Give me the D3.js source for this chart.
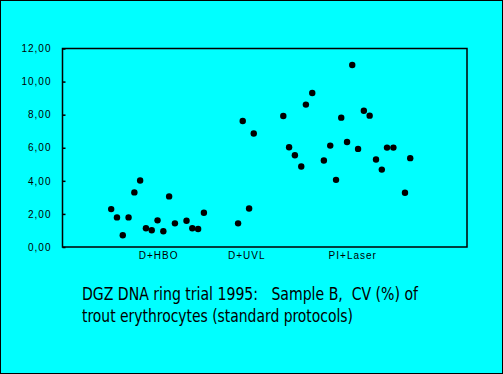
<!DOCTYPE html>
<html>
<head>
<meta charset="utf-8">
<script src="https://cdn.jsdelivr.net/npm/d3@7"></script>
<style>
  html, body { margin: 0; padding: 0; background: #00ffff; }
  svg { display: block; }
</style>
</head>
<body>
<div id="chart"></div>
<script>
// groups along the x axis (label + where the label sits, in run units)
const categories = ["D+HBO", "D+UVL", "PI+Laser"];
const categoryPos = [16.1, 31.3, 49.6];

// run order (x) and CV % (y) for each group
const hboX = [8, 9, 10, 11, 12, 13, 14, 15, 16, 17, 18, 19, 21, 22, 23, 24];
const hboCV = [2.29, 1.79, 0.71, 1.79, 3.30, 4.02, 1.13, 1.01, 1.61, 0.95, 3.06, 1.43, 1.59, 1.13, 1.09, 2.07];
const uvlX = [29.9, 30.7, 31.8, 32.6];
const uvlCV = [1.43, 7.62, 2.33, 6.86];
const laserX = [37.7, 38.7, 39.7, 40.8, 41.6, 42.7, 44.7, 45.8, 46.8, 47.7, 48.7, 49.6, 50.6, 51.6, 52.6, 53.7, 54.7, 55.6, 56.7, 58.7, 59.6];
const laserCV = [7.92, 6.03, 5.55, 4.87, 8.61, 9.31, 5.23, 6.13, 4.06, 7.82, 6.35, 11.0, 5.93, 8.24, 7.94, 5.29, 4.68, 6.01, 6.01, 3.28, 5.37];

const yTicks = [0, 2, 4, 6, 8, 10, 12];
const titleLines = [
  "DGZ DNA ring trial 1995:   Sample B,  CV (%) of",
  "trout erythrocytes (standard protocols)",
];

const W = 503, H = 374;
const plot = { left: 62.5, right: 467, top: 48.5, bottom: 247 };

const svg = d3.select("#chart").append("svg")
  .attr("width", W)
  .attr("height", H);

svg.append("rect")
  .attr("x", 0.5).attr("y", 0.5)
  .attr("width", W - 1).attr("height", H - 1)
  .attr("fill", "#00ffff")
  .attr("stroke", "#000");

const x = d3.scaleLinear().domain([-0.4, 69.4]).range([plot.left, plot.right]);
const y = d3.scaleLinear().domain([0, 12]).range([plot.bottom, plot.top]);

// plot frame
svg.append("rect")
  .attr("x", plot.left).attr("y", plot.top)
  .attr("width", plot.right - plot.left)
  .attr("height", plot.bottom - plot.top)
  .attr("fill", "none")
  .attr("stroke", "#000")
  .attr("stroke-width", 1.5);

// y axis, ticks pointing inward
const yAxis = svg.append("g")
  .attr("transform", `translate(${plot.left},0)`)
  .call(d3.axisLeft(y)
    .tickValues(yTicks)
    .tickSizeInner(-3)
    .tickSizeOuter(0)
    .tickPadding(11)
    .tickFormat((d) => d3.format(".2f")(d).replace(".", ",")));
yAxis.select(".domain").remove();
yAxis.selectAll("text")
  .attr("fill", "#000")
  .style("font-family", "'Liberation Sans', Arial, sans-serif")
  .style("font-size", "10px")
  .style("letter-spacing", "1px");
yAxis.selectAll(".tick line").attr("stroke", "#000").attr("stroke-width", 1.5);

// x axis category labels
const xAxis = svg.append("g")
  .attr("transform", `translate(0,${plot.bottom})`)
  .call(d3.axisBottom(x)
    .tickValues(categoryPos)
    .tickSize(0)
    .tickPadding(5)
    .tickFormat((d, i) => categories[i]));
xAxis.select(".domain").remove();
xAxis.selectAll("text")
  .attr("fill", "#000")
  .style("font-family", "'Liberation Sans', Arial, sans-serif")
  .style("font-size", "10px")
  .style("letter-spacing", "1px");

// points
const groups = [
  { xs: hboX, ys: hboCV },
  { xs: uvlX, ys: uvlCV },
  { xs: laserX, ys: laserCV },
];
groups.forEach((g) => {
  svg.append("g")
    .selectAll("circle")
    .data(g.xs.map((d, i) => ({ x: d, v: g.ys[i] })))
    .join("circle")
    .attr("cx", (d) => x(d.x))
    .attr("cy", (d) => y(d.v))
    .attr("r", 3.2)
    .attr("fill", "#000");
});

// caption
const caption = svg.append("g")
  .style("font-family", "'Liberation Sans Narrow', 'Arial Narrow', 'DejaVu Sans Condensed', 'Liberation Sans', sans-serif")
  .style("font-size", "18px")
  .attr("fill", "#000");
const captionWidths = [336, 271];
titleLines.forEach((t, i) => {
  caption.append("text")
    .attr("x", 82)
    .attr("y", 300 + i * 22)
    .attr("textLength", captionWidths[i])
    .attr("lengthAdjust", "spacingAndGlyphs")
    .style("white-space", "pre")
    .text(t);
});
</script>
</body>
</html>
